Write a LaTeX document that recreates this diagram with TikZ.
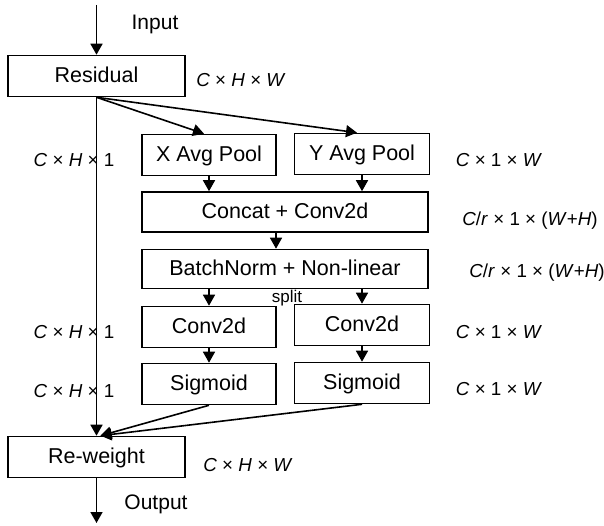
\documentclass[tikz,border=0pt]{standalone}
\usepackage{fontspec}
\setmainfont{Liberation Sans}
\usetikzlibrary{arrows.meta}
\newcommand{\vi}[1]{\textit{#1}}
\begin{document}
\begin{tikzpicture}[x=1pt,y=-1pt,
  box/.style={draw, line width=1.6pt, minimum height=41pt, inner sep=0pt,
    text height=16.5pt, text depth=3.5pt, font=\fontsize{21.5}{24}\selectfont},
  lbl/.style={font=\fontsize{18.8}{22}\selectfont, inner sep=0pt},
  txt/.style={font=\fontsize{21}{24}\selectfont, inner sep=0pt},
  smalltxt/.style={font=\fontsize{17}{18}\selectfont, inner sep=0pt},
  arr/.style={line width=1.6pt, -{Triangle[length=11pt,width=12pt]}}
]
\useasboundingbox (0,0) rectangle (604,526);
% boxes
\node[box, minimum width=177pt] (res) at (96.5,76) {Residual};
\node[box, minimum width=134pt] (xp) at (209,155) {X Avg Pool};
\node[box, minimum width=135pt] (yp) at (362,154) {Y Avg Pool};
\node[box, minimum width=286pt, minimum height=40pt] (cc) at (285,212) {Concat + Conv2d};
\node[box, minimum width=286pt, minimum height=39pt] (bn) at (285,269) {BatchNorm + Non-linear};
\node[box, minimum width=134pt] (c1) at (209,327) {Conv2d};
\node[box, minimum width=135pt] (c2) at (362,325) {Conv2d};
\node[box, minimum width=134pt] (s1) at (209,384) {Sigmoid};
\node[box, minimum width=135pt] (s2) at (362,383) {Sigmoid};
\node[box, minimum width=177pt] (rw) at (96.5,457) {Re-weight};
% free ends
\coordinate (in0) at (96.5,5);
\coordinate (out1) at (96.5,523);
\coordinate (rwtip) at ([xshift=4pt]rw.north);
% connectors
\draw[arr] (in0) -- (res.north);
\draw[arr] (res.south) -- (rw.north);
\draw[arr] (res.south) -- ([xshift=-5pt]xp.north);
\draw[arr] (res.south) -- ([xshift=-5pt]yp.north);
\draw[arr] (xp.south) -- (xp.south |- cc.north);
\draw[arr] (yp.south) -- (yp.south |- cc.north);
\draw[arr] ([xshift=-9pt]cc.south) -- ([xshift=-9pt]bn.north);
\draw[arr] (c1.north |- bn.south) -- (c1.north);
\draw[arr] (c2.north |- bn.south) -- (c2.north);
\draw[arr] (c1.south) -- (s1.north);
\draw[arr] (c2.south) -- (s2.north);
\draw[arr] (s1.south) -- (rwtip);
\draw[arr] (s2.south) -- (rwtip);
\draw[arr] (rw.south) -- (out1);
% labels
\node[txt] (inl) at (155,24) {Input};
\node[txt] (outl) at (156,504) {Output};
\node[smalltxt] (spl) at (287,298) {split};
\node[lbl] (l1) at (241,80) {\vi{C} × \vi{H} × \vi{W}};
\node[lbl] (l2) at (74,160) {\vi{C} × \vi{H} × 1};
\node[lbl] (l3) at (499,160) {\vi{C} × 1 × \vi{W}};
\node[lbl] (l4) at (530,221) {\vi{C}/\vi{r} × 1 × (\vi{W}+\vi{H})};
\node[lbl] (l5) at (537,273) {\vi{C}/\vi{r} × 1 × (\vi{W}+\vi{H})};
\node[lbl] (l6) at (74,332) {\vi{C} × \vi{H} × 1};
\node[lbl] (l7) at (499,332) {\vi{C} × 1 × \vi{W}};
\node[lbl] (l8) at (74,391) {\vi{C} × \vi{H} × 1};
\node[lbl] (l9) at (499,389) {\vi{C} × 1 × \vi{W}};
\node[lbl] (l10) at (248,465) {\vi{C} × \vi{H} × \vi{W}};
\end{tikzpicture}
\end{document}
